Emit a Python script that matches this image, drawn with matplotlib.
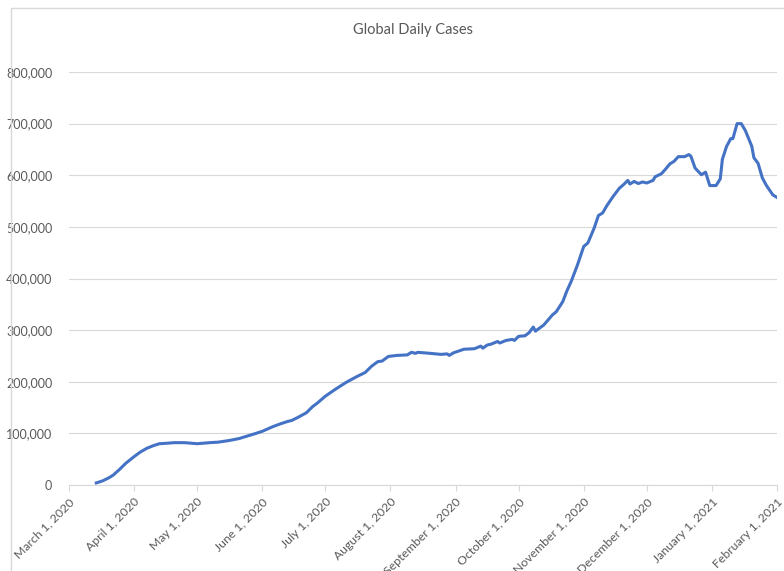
import numpy as np
import pandas as pd
import matplotlib.pyplot as plt
from matplotlib.ticker import FuncFormatter
from matplotlib.patches import Rectangle

plt.rcParams['font.family'] = ['Lato', 'DejaVu Sans']

# values (daily cases, thousands)
dates = ["2020-03-14", "2020-03-17", "2020-03-20", "2020-03-22", "2020-03-25", "2020-03-28",
         "2020-04-01", "2020-04-04", "2020-04-07", "2020-04-10", "2020-04-13", "2020-04-17",
         "2020-04-20", "2020-04-25", "2020-04-28", "2020-05-01", "2020-05-04", "2020-05-07",
         "2020-05-11", "2020-05-16", "2020-05-21", "2020-05-25", "2020-05-29", "2020-06-01",
         "2020-06-06", "2020-06-10", "2020-06-13", "2020-06-15", "2020-06-18", "2020-06-22",
         "2020-06-25", "2020-06-27", "2020-07-01", "2020-07-06", "2020-07-11", "2020-07-16",
         "2020-07-20", "2020-07-23", "2020-07-26", "2020-07-28", "2020-07-31", "2020-08-04",
         "2020-08-09", "2020-08-11", "2020-08-13", "2020-08-14", "2020-08-20", "2020-08-25",
         "2020-08-28", "2020-08-29", "2020-08-31", "2020-09-05", "2020-09-10", "2020-09-13",
         "2020-09-14", "2020-09-16", "2020-09-18", "2020-09-21", "2020-09-22", "2020-09-25",
         "2020-09-28", "2020-09-29", "2020-10-01", "2020-10-04", "2020-10-06", "2020-10-08",
         "2020-10-09", "2020-10-13", "2020-10-17", "2020-10-19", "2020-10-22", "2020-10-24",
         "2020-10-26", "2020-10-29", "2020-11-01", "2020-11-03", "2020-11-06", "2020-11-08",
         "2020-11-10", "2020-11-12", "2020-11-15", "2020-11-18", "2020-11-20", "2020-11-22",
         "2020-11-23", "2020-11-25", "2020-11-27", "2020-11-29", "2020-12-01", "2020-12-04",
         "2020-12-05", "2020-12-08", "2020-12-10", "2020-12-12", "2020-12-14", "2020-12-16",
         "2020-12-19", "2020-12-21", "2020-12-22", "2020-12-24", "2020-12-27", "2020-12-29",
         "2020-12-31", "2021-01-03", "2021-01-05", "2021-01-06", "2021-01-08", "2021-01-10",
         "2021-01-11", "2021-01-13", "2021-01-15", "2021-01-17", "2021-01-20", "2021-01-21",
         "2021-01-23", "2021-01-25", "2021-01-27", "2021-01-30", "2021-02-01"]
cases_k = [4, 8, 14, 19, 30, 42,
           55, 64, 71, 76, 80, 81,
           82, 82, 81, 80, 81, 82,
           83, 86, 90, 95, 100, 104,
           113, 119, 123, 125, 131, 140,
           152, 158, 172, 186, 199, 210,
           218, 230, 239, 240, 249, 251,
           252, 257, 255, 257, 255, 253,
           254, 251, 256, 263, 264, 269,
           265, 271, 273, 278, 275, 280,
           282, 280, 288, 289, 295, 306,
           298, 310, 329, 336, 355, 376,
           394, 426, 462, 469, 498, 522,
           527, 541, 559, 575, 582, 590,
           583, 588, 584, 587, 585, 590,
           597, 603, 612, 622, 627, 636,
           636, 640, 637, 614, 601, 606,
           580, 580, 593, 631, 656, 671,
           671, 700, 700, 686, 656, 634,
           623, 595, 580, 562, 557]

month_ticks = pd.date_range("2020-03-01", "2021-02-01", freq="MS")

x = pd.to_datetime(dates)
y = np.array(cases_k) * 1000

fig = plt.figure(figsize=(7.84, 5.71), dpi=100)
ax = fig.add_axes([69/784, 1 - 485/571, (777 - 69)/784, (485 - 72)/571])

ax.plot(x, y, color="#4472C4", lw=2.2, solid_joinstyle="round")

ax.set_xlim(month_ticks[0], month_ticks[-1])
ax.set_ylim(0, 800000)
ax.set_yticks(np.arange(0, 800001, 100000))
ax.yaxis.set_major_formatter(FuncFormatter(lambda v, p: f"{int(v):,}"))
ax.grid(axis="y", color="#D9D9D9", lw=0.8)
ax.set_axisbelow(True)

ax.set_xticks(month_ticks)
ax.set_xticklabels([d.strftime("%B %-d, %Y") for d in month_ticks], rotation=45,
                   ha="right", rotation_mode="anchor")

for s in ["top", "right", "left"]:
    ax.spines[s].set_visible(False)
ax.spines["bottom"].set_color("#D9D9D9")
ax.tick_params(axis="y", length=0, pad=12, labelsize=9, colors="#595959")
ax.tick_params(axis="x", length=4, color="#D9D9D9", pad=4, labelsize=8.8, labelcolor="#595959")

fig.text(413/784, 1 - 30/571, "Global Daily Cases", ha="center", va="center",
         fontsize=10.5, color="#595959")

fig.patches.append(Rectangle((11/784, -0.1), 1.0, 1.1 - 8/571, transform=fig.transFigure,
                             fill=False, edgecolor="#D9D9D9", lw=1))

fig.savefig("out.png", dpi=100)
